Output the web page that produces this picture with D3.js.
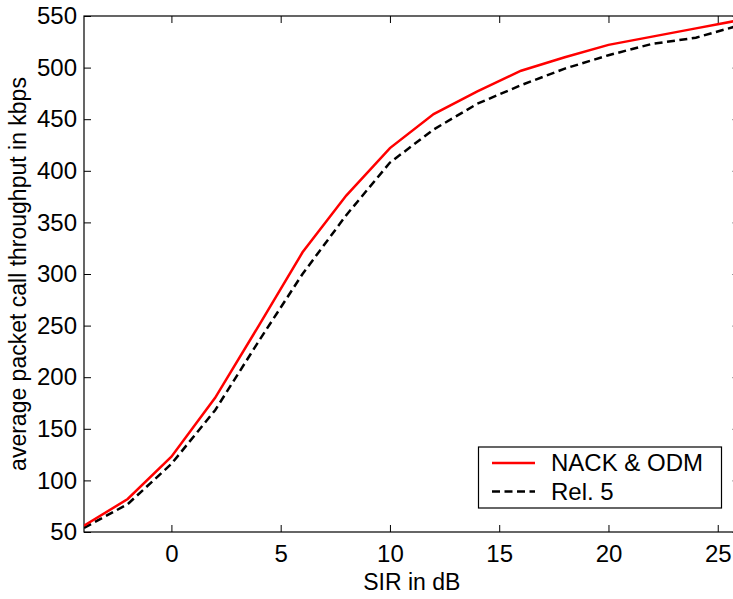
<!DOCTYPE html>
<html>
<head>
<meta charset="utf-8">
<script src="https://cdn.jsdelivr.net/npm/d3@7"></script>
<style>
  html, body { margin: 0; padding: 0; background: #fff; }
  svg { display: block; }
  text { font-family: "Liberation Sans", Arial, sans-serif; fill: #000; }
</style>
</head>
<body>
<svg id="chart" width="733" height="599"></svg>
<script>
// ---- data ----
const sirValues = [-4, -2, 0, 2, 4, 6, 8, 10, 12, 14, 16, 18, 20, 22, 24, 26];
const nackOdm   = [56, 82, 123, 180, 250, 321, 376, 422, 455, 477, 497, 510, 522, 530, 538, 546];
const rel5      = [54, 77, 116, 168, 235, 300, 357, 408, 440, 465, 483, 499, 512, 523, 529, 541];
const xTicks = [0, 5, 10, 15, 20, 25];
const yTicks = [50, 100, 150, 200, 250, 300, 350, 400, 450, 500, 550];
const seriesNames = ["NACK & ODM", "Rel. 5"];
const xLabel = "SIR in dB";
const yLabel = "average packet call throughput in kbps";

// ---- layout ----
const mLeft = 84, mRight = 739.6, mTop = 16, mBottom = 532;
const svg = d3.select("#chart");
const x = d3.scaleLinear().domain([-4, 26]).range([mLeft, mRight]);
const y = d3.scaleLinear().domain([50, 550]).range([mBottom, mTop]);
const tickFont = 24;
const labelFont = 23;
const tickLen = 7;

// box
svg.append("rect").attr("x", mLeft).attr("y", mTop)
  .attr("width", mRight - mLeft).attr("height", mBottom - mTop)
  .attr("fill", "none").attr("stroke", "#000").attr("stroke-width", 1.2);

// axes (ticks inward)
const xAxisB = d3.axisBottom(x).tickValues(xTicks).tickSizeInner(-tickLen).tickSizeOuter(0).tickPadding(13);
const gxb = svg.append("g").attr("transform", `translate(0,${mBottom})`).call(xAxisB);
const xAxisT = d3.axisTop(x).tickValues(xTicks).tickSizeInner(-tickLen).tickSizeOuter(0).tickFormat("");
const gxt = svg.append("g").attr("transform", `translate(0,${mTop})`).call(xAxisT);
const yAxisL = d3.axisLeft(y).tickValues(yTicks).tickSizeInner(-tickLen).tickSizeOuter(0).tickPadding(7);
const gyl = svg.append("g").attr("transform", `translate(${mLeft},0)`).call(yAxisL);
const yAxisR = d3.axisRight(y).tickValues(yTicks).tickSizeInner(-tickLen).tickSizeOuter(0).tickFormat("");
const gyr = svg.append("g").attr("transform", `translate(${mRight},0)`).call(yAxisR);

[gxb, gxt, gyl, gyr].forEach(g => {
  g.select(".domain").remove();
  g.selectAll(".tick line").attr("stroke", "#000").attr("stroke-width", 1);
  g.selectAll("text").style("font-family", '"Liberation Sans", Arial, sans-serif')
    .style("font-size", tickFont + "px").attr("fill", "#000");
});

// lines
const line = d3.line().x((d, i) => x(sirValues[i])).y(d => y(d));
svg.append("clipPath").attr("id", "plotclip")
  .append("rect").attr("x", mLeft).attr("y", mTop).attr("width", mRight - mLeft).attr("height", mBottom - mTop);

svg.append("path").datum(rel5).attr("d", line)
  .attr("fill", "none").attr("stroke", "#000").attr("stroke-width", 2.5)
  .attr("stroke-dasharray", "8,4.5").attr("clip-path", "url(#plotclip)");
svg.append("path").datum(nackOdm).attr("d", line)
  .attr("fill", "none").attr("stroke", "#ff0000").attr("stroke-width", 2.5)
  .attr("clip-path", "url(#plotclip)");

// legend
const lg = svg.append("g");
lg.append("rect").attr("x", 478.5).attr("y", 447).attr("width", 243).attr("height", 61)
  .attr("fill", "#fff").attr("stroke", "#000").attr("stroke-width", 1.2);
const legendItems = [
  { name: seriesNames[0], color: "#ff0000", dash: null, y: 463 },
  { name: seriesNames[1], color: "#000", dash: "8,4.5", y: 491.5 }
];
legendItems.forEach(it => {
  lg.append("line").attr("x1", 492).attr("x2", 535).attr("y1", it.y).attr("y2", it.y)
    .attr("stroke", it.color).attr("stroke-width", 2.5)
    .attr("stroke-dasharray", it.dash);
  lg.append("text").attr("x", 551).attr("y", it.y).attr("dy", "0.35em")
    .style("font-size", tickFont + "px").text(it.name);
});

// axis labels
svg.append("text").attr("x", (mLeft + mRight) / 2).attr("y", 590)
  .attr("text-anchor", "middle").style("font-size", labelFont + "px").text(xLabel);
svg.append("text").attr("transform", `translate(26,${(mTop + mBottom) / 2}) rotate(-90)`)
  .attr("text-anchor", "middle").style("font-size", labelFont + "px").text(yLabel);
</script>
</body>
</html>
